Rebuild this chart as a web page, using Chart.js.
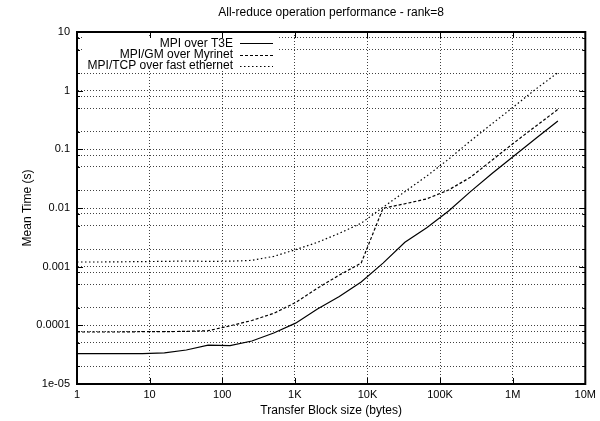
<!DOCTYPE html>
<html>
<head>
<meta charset="utf-8">
<script src="https://cdn.jsdelivr.net/npm/chart.js@4.4.0/dist/chart.umd.min.js"></script>
<style>
html,body{margin:0;padding:0;background:#fff;}
#wrap{width:600px;height:421px;}
canvas{display:block;}
</style>
</head>
<body>
<div id="wrap"><canvas id="c" width="600" height="421"></canvas></div>
<script>
// ---- data ----
const blockSizes = [1,2,4,8,16,32,64,128,256,512,1024,2048,4096,8192,16384,32768,65536,131072,262144,524288,1048576,2097152,4194304];
const t3eTimes = [3.3e-5,3.3e-5,3.3e-5,3.3e-5,3.4e-5,3.8e-5,4.6e-5,4.5e-5,5.4e-5,7.4e-5,1.09e-4,1.9e-4,3.1e-4,5.5e-4,1.15e-3,2.6e-3,4.6e-3,8.9e-3,0.019,0.039,0.078,0.155,0.305];
const myrinetTimes = [7.7e-5,7.7e-5,7.7e-5,7.8e-5,7.8e-5,7.9e-5,8.1e-5,9.8e-5,1.21e-4,1.6e-4,2.45e-4,4.3e-4,7.2e-4,1.15e-3,9.9e-3,0.0118,0.0143,0.0203,0.0334,0.066,0.13,0.25,0.48];
const tcpTimes = [1.2e-3,1.2e-3,1.21e-3,1.22e-3,1.23e-3,1.25e-3,1.23e-3,1.24e-3,1.28e-3,1.5e-3,1.95e-3,2.6e-3,3.7e-3,5.5e-3,0.0103,0.019,0.035,0.068,0.139,0.275,0.54,1.07,2.03];
const seriesNames = ['MPI over T3E','MPI/GM over Myrinet','MPI/TCP over fast ethernet'];
const xTickValues = [1,10,100,1e3,1e4,1e5,1e6,1e7];
const xTickLabels = ['1','10','100','1K','10K','100K','1M','10M'];
const yTickValues = [1e-5,1e-4,1e-3,1e-2,1e-1,1,10];
const yTickLabels = ['1e-05','0.0001','0.001','0.01','0.1','1','10'];
const yMinorMultipliers = [2,5,8];
const chartTitle = 'All-reduce operation performance - rank=8';
const xTitle = 'Transfer Block size (bytes)';
const yTitle = 'Mean Time (s)';

// ---- build library structures ----
const toPoints = (ys) => blockSizes.map((x,i) => ({x:x, y:ys[i]}));
const xLabelMap = new Map(xTickValues.map((v,i)=>[v,xTickLabels[i]]));
const yLabelMap = new Map(yTickValues.map((v,i)=>[v,yTickLabels[i]]));
const yMinorValues = [];
for (let i = 0; i < yTickValues.length - 1; i++) {
  yMinorMultipliers.forEach(m => yMinorValues.push(m * yTickValues[i]));
}
const FONT = '"Liberation Sans", Arial, Helvetica, sans-serif';

const frameAndLegend = {
  id: 'frameAndLegend',
  beforeDatasetsDraw(chart) {
    // key area is kept clear of grid lines
    const ctx = chart.ctx, a = chart.chartArea;
    ctx.save();
    ctx.fillStyle = '#fff';
    ctx.fillRect(a.left + 5, a.top + 4, 196, 35);
    ctx.restore();
  },
  afterDatasetsDraw(chart) {
    const ctx = chart.ctx;
    const a = chart.chartArea;
    const xs = chart.scales.x, ys = chart.scales.y;
    ctx.save();
    // inward tick marks
    ctx.strokeStyle = '#000';
    ctx.lineWidth = 1;
    ctx.setLineDash([]);
    ctx.beginPath();
    xTickValues.forEach(v => {
      const px = Math.round(xs.getPixelForValue(v)) + 0.5;
      ctx.moveTo(px, a.bottom); ctx.lineTo(px, a.bottom - 6);
      ctx.moveTo(px, a.top); ctx.lineTo(px, a.top + 6);
    });
    yTickValues.forEach(v => {
      const py = Math.round(ys.getPixelForValue(v)) + 0.5;
      ctx.moveTo(a.left, py); ctx.lineTo(a.left + 6, py);
      ctx.moveTo(a.right, py); ctx.lineTo(a.right - 6, py);
    });
    yMinorValues.forEach(v => {
      const py = Math.round(ys.getPixelForValue(v)) + 0.5;
      ctx.moveTo(a.left, py); ctx.lineTo(a.left + 3, py);
      ctx.moveTo(a.right, py); ctx.lineTo(a.right - 3, py);
    });
    ctx.stroke();
    // frame
    ctx.lineWidth = 2;
    ctx.strokeRect(a.left, a.top, a.right - a.left, a.bottom - a.top);
    // legend (key) inside plot, text right aligned, sample on right
    ctx.font = '12px ' + FONT;
    ctx.textAlign = 'right';
    ctx.textBaseline = 'middle';
    ctx.fillStyle = '#000';
    const textRight = a.left + 156;
    const sampleL = a.left + 163, sampleR = a.left + 196;
    chart.data.datasets.forEach((ds, i) => {
      const y = a.top + 11.3 + i * 11.4;
      ctx.fillText(ds.label, textRight, y);
      ctx.beginPath();
      ctx.lineWidth = ds.borderWidth;
      ctx.strokeStyle = ds.borderColor;
      ctx.setLineDash(ds.borderDash || []);
      ctx.moveTo(sampleL, Math.round(y) + 0.5);
      ctx.lineTo(sampleR, Math.round(y) + 0.5);
      ctx.stroke();
    });
    ctx.restore();
  }
};

new Chart(document.getElementById('c'), {
  type: 'line',
  data: {
    datasets: [
      {label: seriesNames[0], data: toPoints(t3eTimes), borderColor:'#000', borderWidth:1.2, borderDash:[], pointRadius:0, tension:0, fill:false},
      {label: seriesNames[1], data: toPoints(myrinetTimes), borderColor:'#000', borderWidth:1.2, borderDash:[3,2], pointRadius:0, tension:0, fill:false},
      {label: seriesNames[2], data: toPoints(tcpTimes), borderColor:'#000', borderWidth:1.2, borderDash:[1.5,2.5], pointRadius:0, tension:0, fill:false}
    ]
  },
  options: {
    responsive: false,
    animation: false,
    devicePixelRatio: 1,
    layout: {padding: {left:0, right:12, top:0, bottom:0}},
    plugins: {
      legend: {display:false},
      tooltip: {enabled:false},
      title: {
        display: true, text: chartTitle, fullSize: false, color:'#000',
        font: {family: FONT, size: 12, weight: 'normal'},
        padding: {top: 5.4, bottom: 12.2}
      }
    },
    scales: {
      x: {
        type: 'logarithmic', min: 1, max: 1e7,
        afterBuildTicks: (s) => { s.ticks = xTickValues.map(v => ({value:v})); },
        afterFit: (s) => { s.height = 37; },
        ticks: {autoSkip:false, maxRotation:0, padding:4, color:'#000',
          font:{family:FONT, size:11},
          callback: (v) => xLabelMap.has(v) ? xLabelMap.get(v) : ''},
        grid: {color:'rgba(0,0,0,0.75)', lineWidth:1, drawTicks:false},
        border: {display:true, color:'#000', width:2, dash:[1,2]},
        title: {display:true, text:xTitle, color:'#000', font:{family:FONT, size:12}, padding:{top:0, bottom:2.8}}
      },
      y: {
        type: 'logarithmic', min: 1e-5, max: 10,
        afterBuildTicks: (s) => { s.ticks = yTickValues.concat(yMinorValues).sort((a,b)=>a-b).map(v => ({value:v})); },
        afterFit: (s) => { s.width = 77; },
        ticks: {autoSkip:false, padding:7, color:'#000',
          font:{family:FONT, size:11},
          callback: (v) => yLabelMap.has(v) ? yLabelMap.get(v) : ''},
        grid: {color:'rgba(0,0,0,0.75)', lineWidth:1, drawTicks:false},
        border: {display:true, color:'#000', width:2, dash:[1,2]},
        title: {display:true, text:yTitle, color:'#000', font:{family:FONT, size:12}, padding:{top:20, bottom:0}}
      }
    }
  },
  plugins: [frameAndLegend]
});
</script>
</body>
</html>
